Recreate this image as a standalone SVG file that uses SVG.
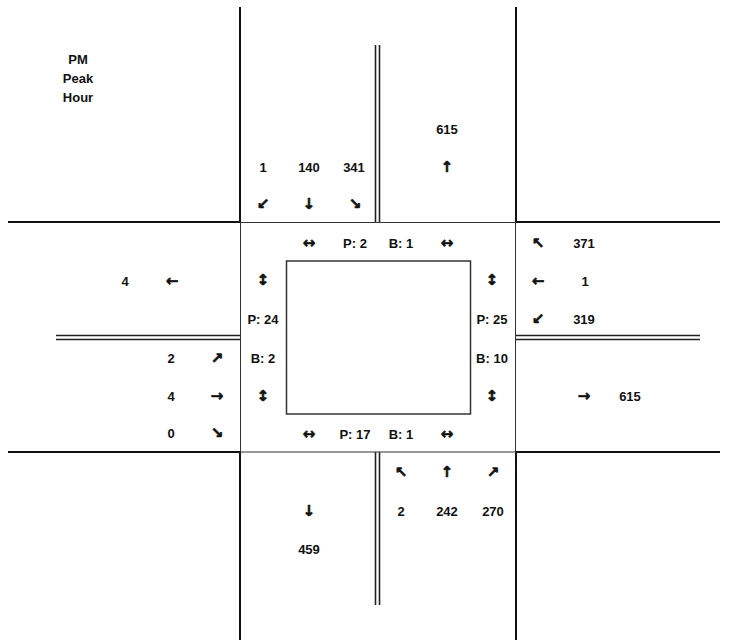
<svg xmlns="http://www.w3.org/2000/svg" width="729" height="641" viewBox="0 0 729 641">
<style>
.road{stroke:#111;stroke-width:2;fill:none}
.med{stroke:#222;stroke-width:1.6;fill:none}
.box{stroke:#333;stroke-width:1;fill:none}
.inner{stroke:#333;stroke-width:1.5;fill:none}
.t{font-family:"Liberation Sans",Arial,sans-serif;font-weight:bold;font-size:13px;fill:#111;text-anchor:middle}
.a{font-family:"DejaVu Sans",sans-serif;font-weight:bold;font-size:15px;fill:#111;stroke:#111;stroke-width:0.6;text-anchor:middle}
</style>
<rect width="729" height="641" fill="#fff"/>
<g id="roads">
<path class="road" d="M240 7V222M516 7V222M240 452V640M516 452V640M8 222H240M516 222H720M8 452H240M516 452H720"/>
<path class="med" d="M375.5 45V222M379.5 45V222M375.5 452V605M379.5 452V605M56 335.5H240M56 339.5H240M516 335.5H700M516 339.5H700"/>
<rect class="box" x="240.5" y="222.5" width="275" height="229.5"/>
<rect class="inner" x="286.5" y="261" width="184" height="153"/>
</g>
<g id="title">
<text class="t" x="78" y="64">PM</text>
<text class="t" x="78" y="83">Peak</text>
<text class="t" x="78" y="102">Hour</text>
</g>
<g id="north">
<text class="t" x="263" y="172">1</text>
<text class="t" x="309" y="172">140</text>
<text class="t" x="354" y="172">341</text>
<text class="a" x="263" y="209">↙</text>
<text class="a" x="309" y="209">↓</text>
<text class="a" x="355" y="209">↘</text>
<text class="t" x="447" y="134">615</text>
<text class="a" x="447" y="172">↑</text>
</g>
<g id="crosswalk-north">
<text class="a" x="309" y="248">↔</text>
<text class="t" x="355" y="248">P: 2</text>
<text class="t" x="401" y="248">B: 1</text>
<text class="a" x="447" y="248">↔</text>
</g>
<g id="west">
<text class="t" x="125" y="286">4</text>
<text class="a" x="172" y="286">←</text>
<text class="t" x="171" y="363">2</text>
<text class="a" x="217" y="363">↗</text>
<text class="t" x="171" y="401">4</text>
<text class="a" x="217" y="401">→</text>
<text class="t" x="171" y="438">0</text>
<text class="a" x="217" y="438">↘</text>
</g>
<g id="crosswalk-west">
<text class="a" x="263" y="285">↕</text>
<text class="t" x="263" y="324">P: 24</text>
<text class="t" x="263" y="363">B: 2</text>
<text class="a" x="263" y="401">↕</text>
</g>
<g id="crosswalk-east">
<text class="a" x="492" y="285">↕</text>
<text class="t" x="492" y="324">P: 25</text>
<text class="t" x="492" y="363">B: 10</text>
<text class="a" x="492" y="401">↕</text>
</g>
<g id="east">
<text class="a" x="538" y="248">↖</text>
<text class="t" x="584" y="248">371</text>
<text class="a" x="538" y="286">←</text>
<text class="t" x="585" y="286">1</text>
<text class="a" x="538" y="324">↙</text>
<text class="t" x="584" y="324">319</text>
<text class="a" x="584" y="401">→</text>
<text class="t" x="630" y="401">615</text>
</g>
<g id="crosswalk-south">
<text class="a" x="309" y="439">↔</text>
<text class="t" x="355" y="439">P: 17</text>
<text class="t" x="401" y="439">B: 1</text>
<text class="a" x="447" y="439">↔</text>
</g>
<g id="south">
<text class="a" x="401" y="477">↖</text>
<text class="a" x="447" y="477">↑</text>
<text class="a" x="493" y="477">↗</text>
<text class="t" x="401" y="516">2</text>
<text class="t" x="447" y="516">242</text>
<text class="t" x="493" y="516">270</text>
<text class="a" x="309" y="516">↓</text>
<text class="t" x="309" y="554">459</text>
</g>
<g id="connectors"></g>
</svg>
